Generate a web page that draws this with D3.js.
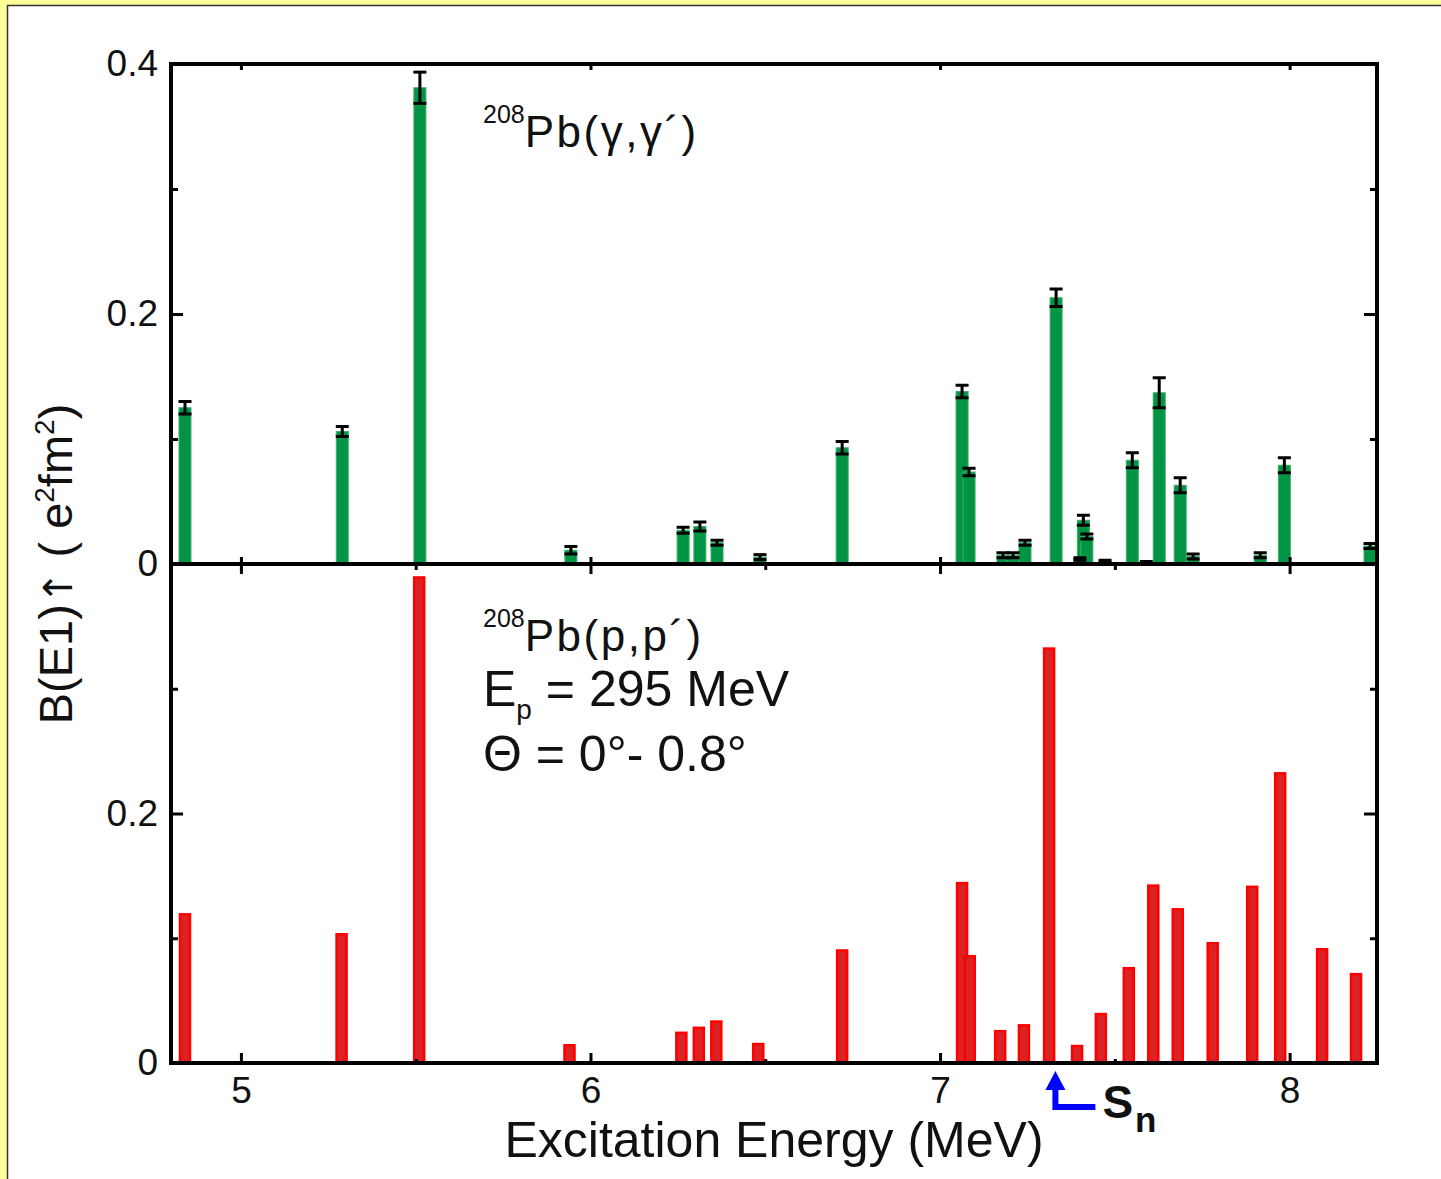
<!DOCTYPE html>
<html>
<head>
<meta charset="utf-8">
<script src="https://cdn.jsdelivr.net/npm/d3@7"></script>
<style>
  body { margin: 0; background: #ffffff; }
  svg text { font-family: "Liberation Sans", Arial, sans-serif; fill: #111; }
</style>
</head>
<body>
<div id="plot"></div>
<script>

// Width and height
const w = 1441;
const h = 1179;
const margin = {top: 64, right: 64, bottom: 116, left: 171};
const innerWidth = w - margin.left - margin.right;
const panelHeight = 500;

// 208Pb(gamma,gamma') strengths
const gammaE = [4.84, 5.29, 5.512, 5.944, 6.265, 6.313, 6.362, 6.485, 6.72, 7.063, 7.083, 7.18, 7.209, 7.243, 7.332, 7.40, 7.41, 7.42, 7.472, 7.55, 7.59, 7.627, 7.687, 7.724, 7.916, 7.985, 8.23];
const gammaB = [0.125, 0.106, 0.381, 0.011, 0.027, 0.030, 0.017, 0.0055, 0.093, 0.138, 0.0736, 0.007, 0.007, 0.017, 0.213, 0.004, 0.035, 0.022, 0.002, 0.083, 0.001, 0.137, 0.063, 0.006, 0.007, 0.079, 0.0144];
const gammaErr = [0.005, 0.004, 0.0125, 0.003, 0.0024, 0.0036, 0.002, 0.002, 0.005, 0.005, 0.003, 0.002, 0.002, 0.002, 0.007, 0.001, 0.004, 0.002, 0.001, 0.006, 0.001, 0.012, 0.006, 0.002, 0.002, 0.006, 0.002];

// 208Pb(p,p') strengths
const protonE = [4.84, 5.288, 5.51, 5.94, 6.26, 6.31, 6.36, 6.48, 6.72, 7.063, 7.085, 7.172, 7.24, 7.312, 7.392, 7.46, 7.54, 7.61, 7.68, 7.78, 7.893, 7.973, 8.093, 8.19];
const protonB = [0.12, 0.104, 0.39, 0.015, 0.025, 0.029, 0.034, 0.016, 0.091, 0.145, 0.0864, 0.0263, 0.031, 0.333, 0.0144, 0.04, 0.0768, 0.143, 0.124, 0.0968, 0.142, 0.233, 0.092, 0.072];

// ticks
const xMajor = [5, 6, 7, 8];
const xMinor = [5.5, 6.5, 7.5];
const yMajor = [0, 0.2, 0.4];
const yMinor = [0.1, 0.3];

// neutron separation energy
const sn = 7.33;

const gamma = gammaE.map((e, i) => ({e: e, b: gammaB[i], err: gammaErr[i]}));
const proton = protonE.map((e, i) => ({e: e, b: protonB[i]}));

// create SVG element
const svg = d3.select("div#plot")
  .append("svg")
    .attr("width", w)
    .attr("height", h);

// yellow border and white sheet
svg.append("rect")
  .attr("width", w)
  .attr("height", h)
  .attr("fill", "#ffff99");

svg.append("rect")
  .attr("x", 7.5)
  .attr("y", 5.5)
  .attr("width", w)
  .attr("height", h)
  .attr("fill", "#ffffff")
  .attr("stroke", "#333")
  .attr("stroke-width", 1.5);

const xScale = d3.scaleLinear()
  .domain([4.8, 8.25])
  .range([margin.left, margin.left + innerWidth]);

const yTop = d3.scaleLinear()
  .domain([0, 0.4])
  .range([margin.top + panelHeight, margin.top]);

const yBot = d3.scaleLinear()
  .domain([0, 0.4])
  .range([margin.top + 2 * panelHeight - 1, margin.top + panelHeight]);

const barW = 12;

// green bars
svg.append("g")
  .selectAll("rect")
  .data(gamma)
  .enter()
  .append("rect")
    .attr("x", d => xScale(d.e) - barW / 2)
    .attr("y", d => yTop(d.b))
    .attr("width", barW)
    .attr("height", d => yTop(0) - yTop(d.b))
    .attr("fill", "#009444")
    .attr("stroke", "#3fae68")
    .attr("stroke-width", 1);

// error bars
const eb = svg.append("g")
  .attr("stroke", "#000")
  .attr("stroke-width", 3);

eb.selectAll("line.v")
  .data(gamma)
  .enter()
  .append("line")
    .attr("class", "v")
    .attr("x1", d => xScale(d.e))
    .attr("x2", d => xScale(d.e))
    .attr("y1", d => yTop(d.b + d.err))
    .attr("y2", d => yTop(d.b - d.err));

eb.selectAll("line.cap")
  .data(gamma.flatMap(d => [{e: d.e, v: d.b + d.err}, {e: d.e, v: d.b - d.err}]))
  .enter()
  .append("line")
    .attr("class", "cap")
    .attr("x1", d => xScale(d.e) - 6.5)
    .attr("x2", d => xScale(d.e) + 6.5)
    .attr("y1", d => yTop(d.v))
    .attr("y2", d => yTop(d.v));

// red bars
svg.append("g")
  .selectAll("rect")
  .data(proton)
  .enter()
  .append("rect")
    .attr("x", d => xScale(d.e) - barW / 2 + 1)
    .attr("y", d => yBot(d.b) + 1)
    .attr("width", barW - 2)
    .attr("height", d => yBot(0) - yBot(d.b) - 1)
    .attr("fill", "#dc2222")
    .attr("stroke", "#ff0000")
    .attr("stroke-width", 2.5);

// create axes (ticks point inward)
function ticks(g) {
  g.select(".domain").remove();
  g.selectAll(".tick line").attr("stroke", "#000").attr("stroke-width", 3);
  g.selectAll(".tick text")
    .style("font-family", "'Liberation Sans', Arial, sans-serif")
    .style("font-size", "37px")
    .attr("fill", "#111");
}

const fmt = d => d === 0 ? "0" : d3.format(".1f")(d);

svg.append("g")
  .attr("transform", `translate(${margin.left}, 0)`)
  .call(d3.axisLeft(yTop).tickValues(yMajor).tickSize(-12).tickPadding(13).tickFormat(fmt))
  .call(ticks);

svg.append("g")
  .attr("transform", `translate(${margin.left}, 0)`)
  .call(d3.axisLeft(yBot).tickValues([0, 0.2]).tickSize(-12).tickPadding(13).tickFormat(fmt))
  .call(ticks);

[yTop, yBot].forEach(s => {
  svg.append("g")
    .attr("transform", `translate(${margin.left}, 0)`)
    .call(d3.axisLeft(s).tickValues(yMinor).tickSize(-7).tickFormat(""))
    .call(ticks);
  svg.append("g")
    .attr("transform", `translate(${margin.left + innerWidth}, 0)`)
    .call(d3.axisRight(s).tickValues([0.2]).tickSize(-13).tickFormat(""))
    .call(ticks);
  svg.append("g")
    .attr("transform", `translate(${margin.left + innerWidth}, 0)`)
    .call(d3.axisRight(s).tickValues(yMinor).tickSize(-7).tickFormat(""))
    .call(ticks);
});

// bottom axis
svg.append("g")
  .attr("transform", `translate(0, ${yBot(0)})`)
  .call(d3.axisBottom(xScale).tickValues(xMajor).tickSize(-10).tickPadding(14).tickFormat(d3.format("d")))
  .call(ticks);

svg.append("g")
  .attr("transform", `translate(0, ${yBot(0)})`)
  .call(d3.axisBottom(xScale).tickValues(xMinor).tickSize(-4).tickFormat(""))
  .call(ticks);

// middle axis
svg.append("g")
  .attr("transform", `translate(0, ${yTop(0)})`)
  .call(d3.axisBottom(xScale).tickValues(xMajor).tickSize(10).tickFormat(""))
  .call(ticks);

svg.append("g")
  .attr("transform", `translate(0, ${yTop(0)})`)
  .call(d3.axisTop(xScale).tickValues(xMajor).tickSize(7).tickFormat(""))
  .call(ticks);

svg.append("g")
  .attr("transform", `translate(0, ${yTop(0)})`)
  .call(d3.axisBottom(xScale).tickValues(xMinor).tickSize(6).tickFormat(""))
  .call(ticks);

// top axis
svg.append("g")
  .attr("transform", `translate(0, ${margin.top})`)
  .call(d3.axisTop(xScale).tickValues(xMajor).tickSize(-6).tickFormat(""))
  .call(ticks);

// frame
svg.append("rect")
  .attr("x", margin.left)
  .attr("y", margin.top)
  .attr("width", innerWidth)
  .attr("height", yBot(0) - margin.top)
  .attr("fill", "none")
  .attr("stroke", "#000")
  .attr("stroke-width", 4);

svg.append("line")
  .attr("x1", margin.left)
  .attr("x2", margin.left + innerWidth)
  .attr("y1", yTop(0))
  .attr("y2", yTop(0))
  .attr("stroke", "#000")
  .attr("stroke-width", 4);

// create x-axis label
svg.append("text")
  .attr("x", margin.left + innerWidth / 2)
  .attr("y", 1157)
  .attr("text-anchor", "middle")
  .style("font-size", "50px")
  .text("Excitation Energy (MeV)");

// create y-axis label
const ylab = svg.append("text")
  .attr("transform", `translate(72, ${yTop(0)}) rotate(-90)`)
  .attr("text-anchor", "middle")
  .style("font-size", "47px");
ylab.append("tspan").text("B(E1)");
ylab.append("tspan").style("font-family", "'DejaVu Sans', sans-serif").style("font-size", "40px").text("\u2191");
ylab.append("tspan").text(" ( e");
ylab.append("tspan").attr("dy", -18).style("font-size", "28px").text("2");
ylab.append("tspan").attr("dy", 18).text("fm");
ylab.append("tspan").attr("dy", -18).style("font-size", "28px").text("2");
ylab.append("tspan").attr("dy", 18).text(")");

// panel labels
function reaction(y, body) {
  const t = svg.append("text")
    .attr("x", 483)
    .attr("y", y);
  t.append("tspan").style("font-size", "25px").attr("dy", -24).text("208");
  t.append("tspan").style("font-size", "44px").style("letter-spacing", "2.5px").attr("dy", 24).text(body);
}
reaction(147, "Pb(\u03b3,\u03b3\u00b4)");
reaction(651, "Pb(p,p\u00b4)");

const ep = svg.append("text")
  .attr("x", 483)
  .attr("y", 706)
  .style("font-size", "50px");
ep.append("tspan").text("E");
ep.append("tspan").attr("dy", 13).style("font-size", "28px").text("p");
ep.append("tspan").attr("dy", -13).text(" = 295 MeV");

const th = svg.append("text")
  .attr("x", 483)
  .attr("y", 771)
  .style("font-size", "50px")
  .text("\u0398 = 0\u00b0- 0.8\u00b0");

// Sn arrow
const sx = xScale(sn);
const arrow = svg.append("g")
  .attr("fill", "#0000ff")
  .attr("stroke", "#0000ff");

arrow.append("path")
  .attr("stroke", "none")
  .attr("d", `M${sx},1071 L${sx - 10},1090 L${sx + 10},1090 Z`);

arrow.append("path")
  .attr("fill", "none")
  .attr("stroke-width", 6)
  .attr("d", `M${sx},1088 L${sx},1107 L${sx + 40},1107`);

const snl = svg.append("text")
  .attr("x", sx + 47)
  .attr("y", 1118)
  .style("font-weight", "bold")
  .style("font-size", "46px");
snl.append("tspan").text("S");
snl.append("tspan").attr("dy", 14).attr("dx", 2).style("font-size", "35px").text("n");

</script>
</body>
</html>
